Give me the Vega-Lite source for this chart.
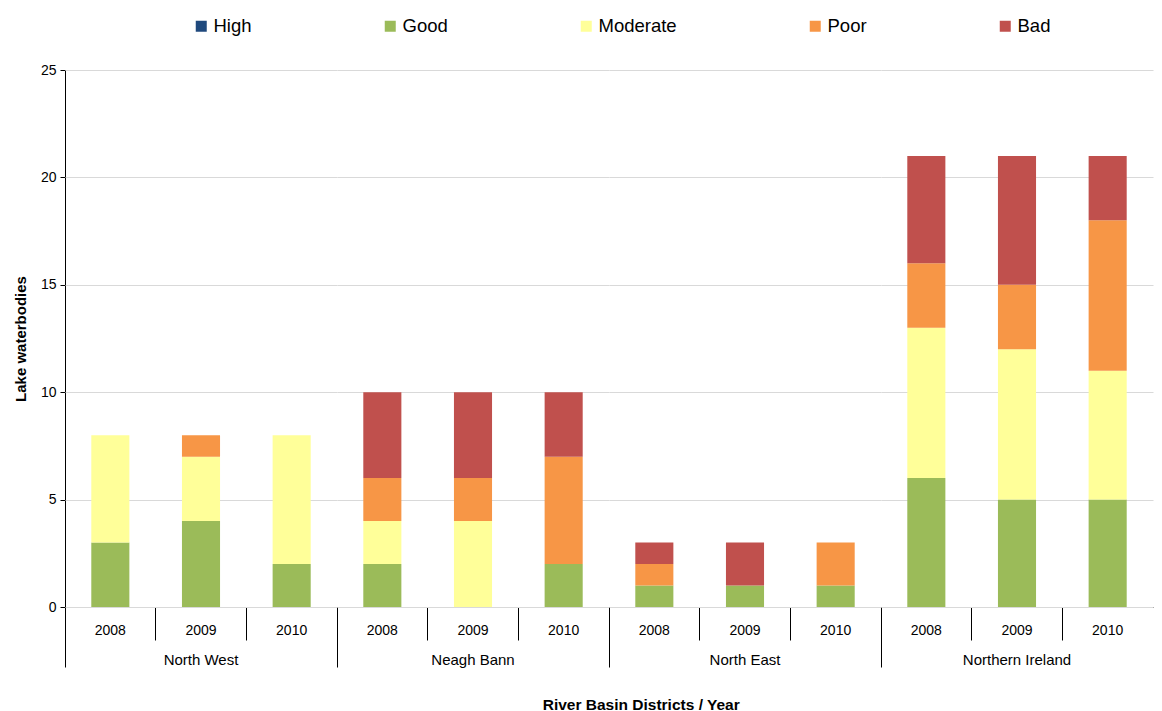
{
  "$schema": "https://vega.github.io/schema/vega-lite/v6.json",
  "padding": {"left": 13, "top": 17, "right": 2, "bottom": 0},
  "config": {"view": {"stroke": null}, "font": "Liberation Sans"},
  "title": {
    "text": "River Basin Districts / Year", "orient": "bottom", "anchor": "middle",
    "dx": 58, "offset": 30, "fontSize": 15.5, "fontWeight": "bold", "color": "#000"
  },
  "data": {"values": [
    {"district": "North West", "year": "2008", "status": "Good", "count": 3},
    {"district": "North West", "year": "2008", "status": "Moderate", "count": 5},
    {"district": "North West", "year": "2009", "status": "Good", "count": 4},
    {"district": "North West", "year": "2009", "status": "Moderate", "count": 3},
    {"district": "North West", "year": "2009", "status": "Poor", "count": 1},
    {"district": "North West", "year": "2010", "status": "Good", "count": 2},
    {"district": "North West", "year": "2010", "status": "Moderate", "count": 6},
    {"district": "Neagh Bann", "year": "2008", "status": "Good", "count": 2},
    {"district": "Neagh Bann", "year": "2008", "status": "Moderate", "count": 2},
    {"district": "Neagh Bann", "year": "2008", "status": "Poor", "count": 2},
    {"district": "Neagh Bann", "year": "2008", "status": "Bad", "count": 4},
    {"district": "Neagh Bann", "year": "2009", "status": "Moderate", "count": 4},
    {"district": "Neagh Bann", "year": "2009", "status": "Poor", "count": 2},
    {"district": "Neagh Bann", "year": "2009", "status": "Bad", "count": 4},
    {"district": "Neagh Bann", "year": "2010", "status": "Good", "count": 2},
    {"district": "Neagh Bann", "year": "2010", "status": "Poor", "count": 5},
    {"district": "Neagh Bann", "year": "2010", "status": "Bad", "count": 3},
    {"district": "North East", "year": "2008", "status": "Good", "count": 1},
    {"district": "North East", "year": "2008", "status": "Poor", "count": 1},
    {"district": "North East", "year": "2008", "status": "Bad", "count": 1},
    {"district": "North East", "year": "2009", "status": "Good", "count": 1},
    {"district": "North East", "year": "2009", "status": "Bad", "count": 2},
    {"district": "North East", "year": "2010", "status": "Good", "count": 1},
    {"district": "North East", "year": "2010", "status": "Poor", "count": 2},
    {"district": "Northern Ireland", "year": "2008", "status": "Good", "count": 6},
    {"district": "Northern Ireland", "year": "2008", "status": "Moderate", "count": 7},
    {"district": "Northern Ireland", "year": "2008", "status": "Poor", "count": 3},
    {"district": "Northern Ireland", "year": "2008", "status": "Bad", "count": 5},
    {"district": "Northern Ireland", "year": "2009", "status": "Good", "count": 5},
    {"district": "Northern Ireland", "year": "2009", "status": "Moderate", "count": 7},
    {"district": "Northern Ireland", "year": "2009", "status": "Poor", "count": 3},
    {"district": "Northern Ireland", "year": "2009", "status": "Bad", "count": 6},
    {"district": "Northern Ireland", "year": "2010", "status": "Good", "count": 5},
    {"district": "Northern Ireland", "year": "2010", "status": "Moderate", "count": 6},
    {"district": "Northern Ireland", "year": "2010", "status": "Poor", "count": 7},
    {"district": "Northern Ireland", "year": "2010", "status": "Bad", "count": 3}
  ]},
  "facet": {
    "column": {
      "field": "district", "type": "nominal",
      "sort": ["North West", "Neagh Bann", "North East", "Northern Ireland"],
      "header": {
        "labelOrient": "bottom", "title": null,
        "labelFontSize": 15, "labelColor": "#000", "labelPadding": -15
      }
    }
  },
  "spacing": 0,
  "spec": {
    "width": 272,
    "height": 537,
    "transform": [
      {"calculate": "indexof(['High','Good','Moderate','Poor','Bad'], datum.status)", "as": "stackOrder"}
    ],
    "mark": {"type": "bar", "width": {"band": 0.42}},
    "encoding": {
      "x": {
        "field": "year", "type": "nominal",
        "scale": {"paddingInner": 0, "paddingOuter": 0},
        "axis": {
          "title": null, "labelAngle": 0, "bandPosition": 0,
          "tickSize": {"condition": {"test": "datum.value == '2008'", "value": 60}, "value": 33},
          "labelPadding": {"condition": {"test": "datum.value == '2008'", "value": -44}, "value": -17},
          "labelFontSize": 14, "labelColor": "#000",
          "domainColor": "#000", "tickColor": "#000", "grid": false
        }
      },
      "y": {
        "field": "count", "type": "quantitative", "aggregate": "sum",
        "scale": {"domain": [0, 25]},
        "axis": {
          "title": "Lake waterbodies", "values": [0, 5, 10, 15, 20, 25],
          "titleFontSize": 15, "titleFontWeight": "bold", "titleColor": "#000", "titlePadding": 12,
          "labelFontSize": 14, "labelColor": "#000", "labelPadding": 4,
          "domainColor": "#000", "tickColor": "#000", "tickSize": 5,
          "gridColor": "#D9D9D9"
        }
      },
      "order": {"field": "stackOrder", "type": "quantitative", "sort": "ascending"},
      "color": {
        "field": "status", "type": "nominal",
        "scale": {"domain": ["High", "Good", "Moderate", "Poor", "Bad"], "range": ["#1F497D", "#9BBB59", "#FFFF99", "#F79646", "#C0504D"]},
        "legend": {
          "orient": "none", "legendX": 127, "legendY": -53, "direction": "horizontal",
          "title": null, "symbolType": "square", "symbolSize": 121, "symbolStrokeWidth": 0,
          "labelFontSize": 18.5, "labelColor": "#000", "labelOffset": 3,
          "columns": 5, "columnPadding": 129, "gridAlign": "none"
        }
      }
    }
  }
}
